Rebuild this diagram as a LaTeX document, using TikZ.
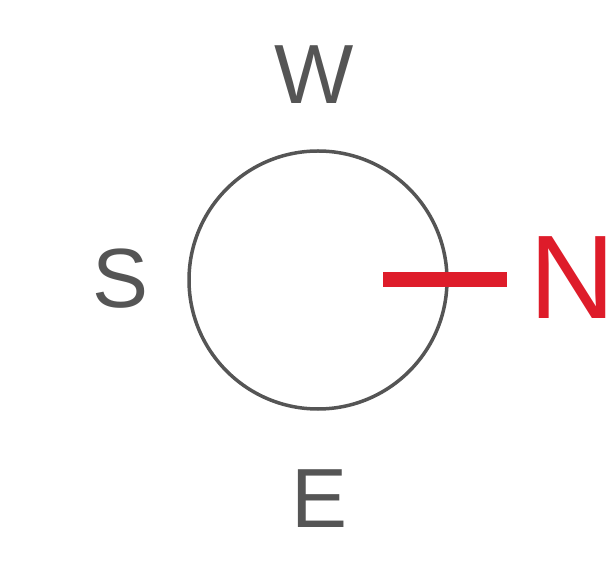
\documentclass[tikz,border=0pt]{standalone}
\usepackage{fontspec}
\setmainfont{Liberation Sans}
\usepackage{tikz}
\usetikzlibrary{positioning}
\usepackage{xcolor}
\definecolor{dialgray}{RGB}{85,85,85}
\definecolor{northred}{RGB}{222,28,42}

\begin{document}
\begin{tikzpicture}[x=1pt,y=1pt,
    letter/.style={inner sep=0pt,text=dialgray,font=\fontsize{84}{84}\selectfont}]
    \useasboundingbox (0,0) rectangle (612,562);
    \node[circle,draw=dialgray,line width=3.5pt,minimum size=258pt,inner sep=0pt] (dial) at (318,282) {};
    % gray letters round the dial
    \foreach \lbl/\x/\y in {W/314/487, S/121/283, E/320/63} {
      \node[letter] (\lbl) at (\x,\y) {\lbl};
    }
    \node[letter,text=northred,font=\fontsize{119}{119}\selectfont] (N) at (572,284) {N};
    \coordinate (needle-in) at (383,282);
    \coordinate (needle-out) at (507,282);
    \draw[northred,line width=15pt] (needle-in) -- (needle-out);
\end{tikzpicture}
\end{document}
